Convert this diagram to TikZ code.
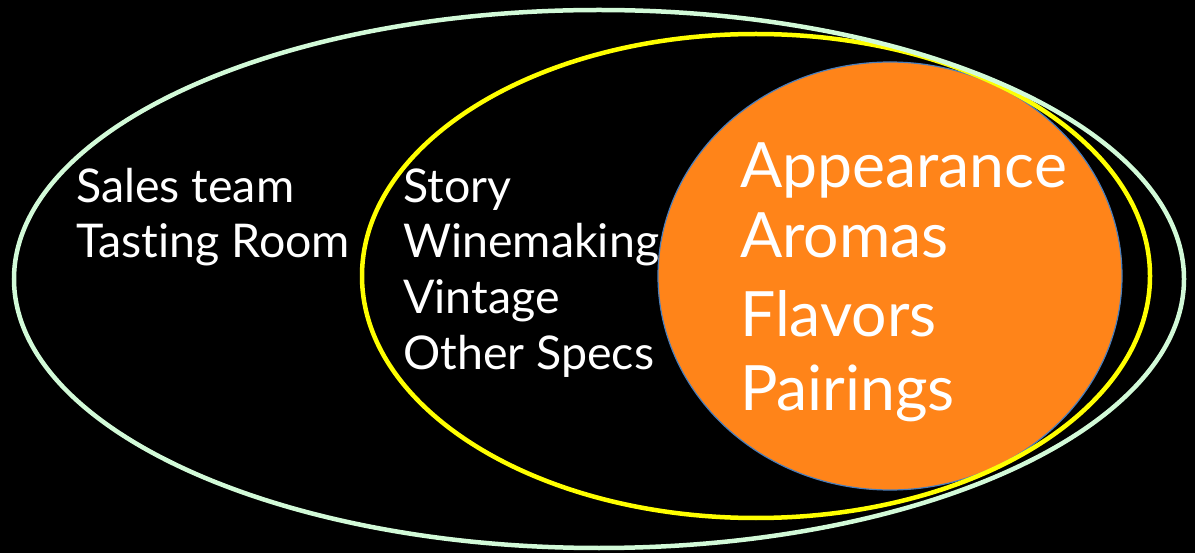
\documentclass[tikz,border=0pt]{standalone}
\usepackage{fontspec}
\setmainfont[Ligatures=NoCommon]{Lato}
\definecolor{mint}{HTML}{D2FAD8}
\definecolor{wineorange}{HTML}{FF8419}
\definecolor{rimblue}{HTML}{4A7EBB}
\definecolor{ringyellow}{HTML}{FFFF00}
\tikzset{
  lbl/.style={text=white, anchor=base west, inner sep=0pt, font=\fontsize{46.5}{54}\selectfont},
  biglbl/.style={text=white, anchor=base west, inner sep=0pt, font=\fontsize{62.5}{72}\selectfont},
}
\begin{document}
\begin{tikzpicture}[x=1pt,y=-1pt]
\fill[black] (0,0) rectangle (1195,553);
\useasboundingbox (0,0) rectangle (1195,553);
% orange core
\fill[wineorange, draw=rimblue, line width=1.2pt] (890,276) ellipse [x radius=232, y radius=214];
% yellow ring
\draw[ringyellow, line width=4.5pt] (756,276) ellipse [x radius=394, y radius=242];
% mint ring
\draw[mint, line width=4.5pt] (599,279) ellipse [x radius=585, y radius=269];
% labels
\node[lbl] (sales) at (76,203) {Sales team};
\node[lbl] (tasting) at (76,258) {Tasting Room};
\node[lbl] (story) at (403,203) {Story};
\node[lbl] (winemaking) at (403,258) {Winemaking};
\node[lbl] (vintage) at (403,314) {Vintage};
\node[lbl] (specs) at (403,370) {Other Specs};
\node[biglbl] (appearance) at (740,188) {Appearance};
\node[biglbl] (aromas) at (740,258) {Aromas};
\node[biglbl] (flavors) at (740,337) {Flavors};
\node[biglbl] (pairings) at (740,410) {Pairings};
\end{tikzpicture}
\end{document}
